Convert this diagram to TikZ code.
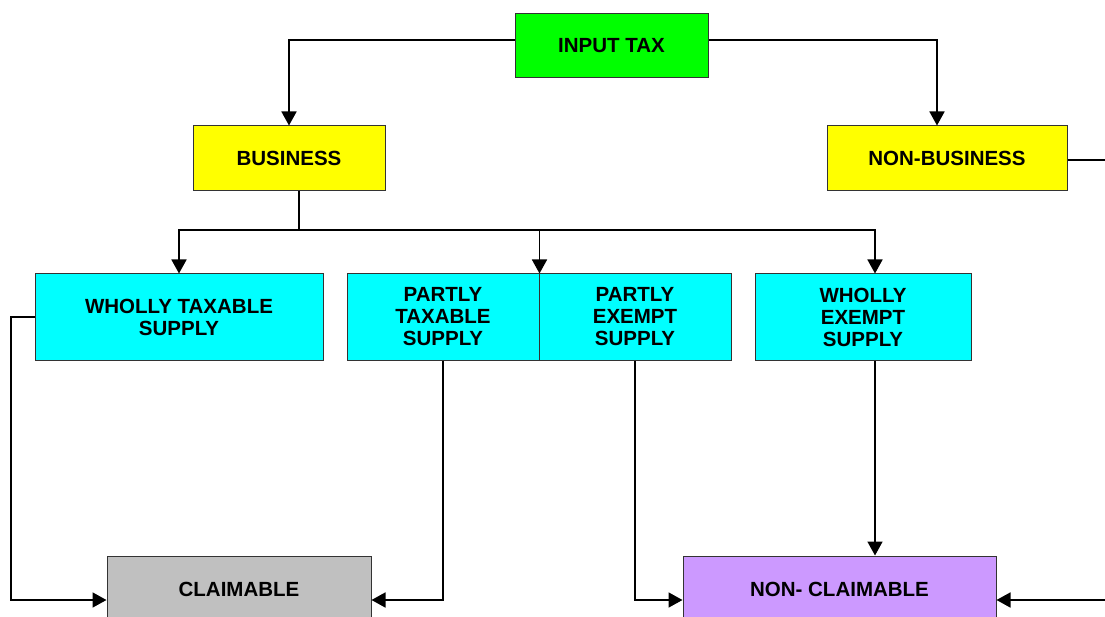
\documentclass[tikz,border=0pt]{standalone}
\usepackage{fontspec}
\setmainfont{Liberation Sans}
\usetikzlibrary{arrows.meta}
\definecolor{cgreen}{HTML}{00FF00}
\definecolor{cyellow}{HTML}{FFFF00}
\definecolor{ccyan}{HTML}{00FFFF}
\definecolor{cgray}{HTML}{C0C0C0}
\definecolor{cpurple}{HTML}{CC99FF}
\tikzset{
  boxnode/.style={draw=black!80, line width=1pt, rectangle, inner sep=0pt, align=center,
    font=\fontsize{20.5}{22}\selectfont\bfseries},
  conn/.style={line width=1.7pt, black},
  arr/.style={conn, -{Triangle[length=14pt,width=15pt]}}
}
\begin{document}
\begin{tikzpicture}[x=1pt,y=-1pt]
\fill[white] (0,0) rectangle (1105,617);
\clip (0,0) rectangle (1105,617);
\node[boxnode, fill=cgreen, minimum width=193pt, minimum height=64pt] (it) at (611.5,46) {\raisebox{-2pt}{INPUT TAX}};
\node[boxnode, fill=cyellow, minimum width=192pt, minimum height=65pt] (bus) at (289,158.5) {\raisebox{-2pt}{BUSINESS}};
\node[boxnode, fill=cyellow, minimum width=240pt, minimum height=65pt] (nb) at (947,158.5) {\raisebox{-2pt}{NON-BUSINESS}};
\node[boxnode, fill=ccyan, minimum width=288pt, minimum height=86pt] (wts) at (179,317) {WHOLLY TAXABLE\\SUPPLY};
\node[boxnode, fill=ccyan, minimum width=192pt, minimum height=86pt] (pts) at (443,317) {PARTLY\\TAXABLE\\SUPPLY};
\node[boxnode, fill=ccyan, minimum width=192pt, minimum height=86pt] (pes) at (635,317) {PARTLY\\EXEMPT\\SUPPLY};
\node[boxnode, fill=ccyan, minimum width=216pt, minimum height=86pt] (wes) at (863,317) {WHOLLY\\EXEMPT\\SUPPLY};
\node[boxnode, fill=cgray, minimum width=264pt, minimum height=66pt] (cl) at (239,589) {CLAIMABLE};
\node[boxnode, fill=cpurple, minimum width=313pt, minimum height=66pt] (nc) at (839.5,589) {NON- CLAIMABLE};
\coordinate (j) at (299,230);
\coordinate (la) at (11,600);
\coordinate (rt) at (1120,160);
\coordinate (rb) at (1120,600);
% top
\draw[arr] ([yshift=6pt]it.west) -| (bus.north);
\draw[arr] ([yshift=6pt]it.east) -| ([xshift=-10pt]nb.north);
% business split
\draw[conn] ([xshift=10pt]bus.south) -- (j);
\draw[arr] (j) -| (wts.north);
\draw[arr] (j) -| (pts.north east);
\draw[arr] (j) -| ([xshift=12pt]wes.north);
% to claimable
\draw[arr] (wts.west) -| (la) -- (cl.west |- la);
\draw[arr] (pts.south) |- ([yshift=-11pt]cl.east);
% to non-claimable
\draw[arr] (pes.south) |- ([yshift=-11pt]nc.west);
\draw[arr] ([xshift=12pt]wes.south) -- ([xshift=12pt]wes.south |- nc.north);
\draw[arr] (nb.east |- rt) -- (rt) -- (rb) -- (nc.east |- rb);
\end{tikzpicture}
\end{document}
